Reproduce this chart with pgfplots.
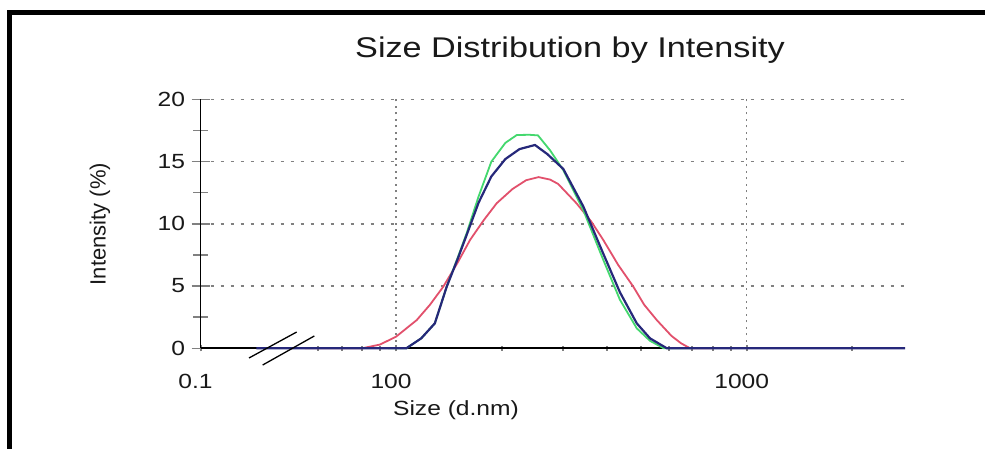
\documentclass[border=0pt]{standalone}
\usepackage{fontspec}
\setmainfont{Liberation Sans}[FakeStretch=1.2]
\newfontfamily\plainfont{Liberation Sans}
\usepackage{pgfplots}
\pgfplotsset{compat=1.18}
\definecolor{cgreen}{HTML}{44D86E}
\definecolor{cblue}{HTML}{26287A}
\definecolor{cred}{HTML}{E2506C}
\definecolor{cgrid}{HTML}{808080}
\begin{document}
\begin{tikzpicture}[x=1pt,y=1pt]
\useasboundingbox (0,0) rectangle (985,449);
\fill[white] (0,0) rectangle (985,449);
\draw[black, line width=5pt] (9.5,0) -- (9.5,436) -- (985,436);
\begin{axis}[
  at={(200.5pt,100.7pt)}, anchor=south west,
  scale only axis, width=704.5pt, height=249pt,
  xmode=log, xmin=27.7, xmax=2828, ymin=0, ymax=20,
  axis lines=left, axis line style={line width=1.8pt, -},
  clip=false,
  /pgf/number format/assume math mode=true,
  xtick={27.7,100,1000}, xticklabels={0.1,100,1000},
  minor xtick={60,70,80,90,200,300,400,500,600,700,800,900,2000},
  ytick={0,5,10,15,20}, minor ytick={2.5,7.5,12.5,17.5},
  tick align=center,
  major tick length=18pt, minor tick length=15pt,
  xtick style={/pgfplots/major tick length=6pt, /pgfplots/minor tick length=5pt, line width=2pt},
  ytick style={line width=1.5pt},
  xmajorgrids, ymajorgrids,
  x grid style={cgrid, line width=1.5pt, dash pattern=on 2pt off 4.5pt},
  y grid style={cgrid, line width=1.5pt, dash pattern=on 3pt off 7pt},
  ticklabel style={font=\fontsize{20.5}{20.5}\selectfont, text=black!90},
  xticklabel style={anchor=base, yshift=-31.5pt, xshift=-5pt},
  yticklabel style={anchor=east, xshift=-3pt},
]
\addplot[cred, line width=1.8pt] table {
55 0
80 0
90 0.3
100 0.93
114.6 2.27
125 3.5
136.4 4.95
150 6.9
162.6 8.7
178 10.3
193.7 11.65
215 12.8
235 13.5
255 13.75
275 13.55
290 13.2
327 11.65
360 10.2
390 8.7
430 6.7
475 4.95
510 3.5
554 2.27
610 1.0
650 0.4
690 0
800 0
};
\addplot[cgreen, line width=1.8pt] table {
95 0
107 0
118 0.8
129 2.0
139.5 4.95
150 7.3
159 9.24
172 12.2
187 14.99
205 16.5
221 17.13
240 17.15
254 17.1
275 15.9
300 14.3
342 11.1
390 7.1
435 3.9
486 1.6
530 0.6
580 0
700 0
};
\addplot[cblue, line width=2.2pt] table {
40 0
107 0
118 0.8
129 2.0
139.5 4.95
150 7.2
159 9.1
172 11.7
187 13.8
205 15.2
225 16.0
249 16.33
270 15.6
300 14.4
342 11.4
390 7.6
435 4.5
486 2.0
530 0.8
592 0
2828 0
};
\end{axis}
\node[anchor=base, font=\fontsize{28.5}{28.5}\selectfont, text=black!90] at (570,391) {Size Distribution by Intensity};
\node[anchor=base, font=\fontsize{20.5}{20.5}\selectfont, text=black!90] at (456,33) {Size (d.nm)};
\node[rotate=90, font=\plainfont\fontsize{22}{22}\selectfont, text=black!90] at (100,225) {Intensity (\%)};
\draw[black, line width=1.3pt] (249,91) -- (296.7,117);
\draw[black, line width=1.3pt] (262.7,84) -- (314.3,113);
\end{tikzpicture}
\end{document}
